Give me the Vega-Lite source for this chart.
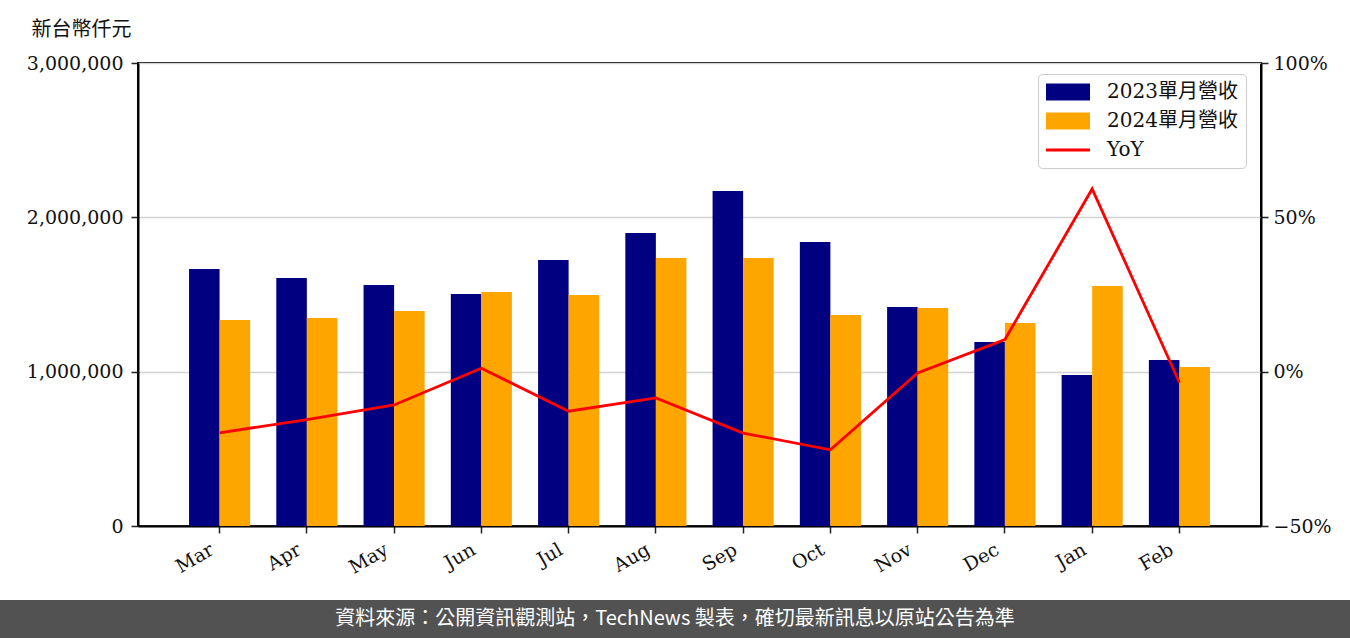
{
  "$schema": "https://vega.github.io/schema/vega-lite/v6.json",
  "padding": {"left": 0, "top": 18, "right": 0, "bottom": 0},
  "spacing": 21,
  "resolve": {"legend": {"color": "independent"}},
  "config": {"view": {"stroke": null}, "font": "DejaVu Serif"},
  "datasets": {
    "rev": [
      {"month": "Mar", "series": "2023單月營收", "value": 1665000},
      {"month": "Mar", "series": "2024單月營收", "value": 1335000},
      {"month": "Apr", "series": "2023單月營收", "value": 1607000},
      {"month": "Apr", "series": "2024單月營收", "value": 1348000},
      {"month": "May", "series": "2023單月營收", "value": 1562000},
      {"month": "May", "series": "2024單月營收", "value": 1393000},
      {"month": "Jun", "series": "2023單月營收", "value": 1503000},
      {"month": "Jun", "series": "2024單月營收", "value": 1516000},
      {"month": "Jul", "series": "2023單月營收", "value": 1724000},
      {"month": "Jul", "series": "2024單月營收", "value": 1497000},
      {"month": "Aug", "series": "2023單月營收", "value": 1899000},
      {"month": "Aug", "series": "2024單月營收", "value": 1737000},
      {"month": "Sep", "series": "2023單月營收", "value": 2171000},
      {"month": "Sep", "series": "2024單月營收", "value": 1737000},
      {"month": "Oct", "series": "2023單月營收", "value": 1840000},
      {"month": "Oct", "series": "2024單月營收", "value": 1367000},
      {"month": "Nov", "series": "2023單月營收", "value": 1419000},
      {"month": "Nov", "series": "2024單月營收", "value": 1413000},
      {"month": "Dec", "series": "2023單月營收", "value": 1192000},
      {"month": "Dec", "series": "2024單月營收", "value": 1315000},
      {"month": "Jan", "series": "2023單月營收", "value": 978000},
      {"month": "Jan", "series": "2024單月營收", "value": 1555000},
      {"month": "Feb", "series": "2023單月營收", "value": 1076000},
      {"month": "Feb", "series": "2024單月營收", "value": 1030000}
    ],
    "yoy": [
      {"month": "Mar", "yoy": -0.198},
      {"month": "Apr", "yoy": -0.155},
      {"month": "May", "yoy": -0.108},
      {"month": "Jun", "yoy": 0.011},
      {"month": "Jul", "yoy": -0.128},
      {"month": "Aug", "yoy": -0.085},
      {"month": "Sep", "yoy": -0.199},
      {"month": "Oct", "yoy": -0.253},
      {"month": "Nov", "yoy": -0.004},
      {"month": "Dec", "yoy": 0.104},
      {"month": "Jan", "yoy": 0.592},
      {"month": "Feb", "yoy": -0.035}
    ],
    "note": [
      {"note": "資料來源：公開資訊觀測站，TechNews 製表，確切最新訊息以原站公告為準"}
    ],
    "empty": []
  },
  "vconcat": [
    {
      "spacing": 0,
      "resolve": {"legend": {"color": "independent"}},
      "hconcat": [
        {
          "width": 25,
          "height": 10,
          "data": {"name": "empty"},
          "mark": "point"
        },
        {
          "width": 1123,
          "height": 463,
          "view": {"stroke": "black", "strokeWidth": 2},
          "layer": [
            {
              "data": {"name": "rev"},
              "mark": {"type": "bar"},
              "encoding": {
                "x": {
                  "field": "month", "type": "nominal",
                  "sort": ["Mar","Apr","May","Jun","Jul","Aug","Sep","Oct","Nov","Dec","Jan","Feb"],
                  "scale": {"paddingInner": 0.3, "paddingOuter": 0.585},
                  "axis": {
                    "title": null, "labelAngle": -30, "labelAlign": "right", "labelBaseline": "top",
                    "labelFont": "DejaVu Serif", "labelFontSize": 19, "labelColor": "#111111", "labelPadding": 7,
                    "labelOffset": -12,
                    "tickSize": 7, "tickColor": "#222222", "tickWidth": 1.5,
                    "domainColor": "black", "domainWidth": 2
                  }
                },
                "xOffset": {"field": "series", "type": "nominal", "scale": {"paddingInner": 0, "paddingOuter": 0}},
                "y": {
                  "field": "value", "type": "quantitative",
                  "scale": {"domain": [0, 3000000], "nice": false, "zero": true},
                  "axis": {
                    "values": [0, 1000000, 2000000, 3000000], "format": ",.0f",
                    "title": "新台幣仟元", "titleAngle": 0, "titleAlign": "left", "titleBaseline": "top",
                    "titleX": -107, "titleY": -44, "titleFont": "Noto Sans CJK TC", "titleFontSize": 20,
                    "titleFontWeight": "normal", "titleColor": "#111111",
                    "labelFont": "DejaVu Serif", "labelFontSize": 19, "labelColor": "#111111", "labelPadding": 8,
                    "tickSize": 7, "tickColor": "#222222", "tickWidth": 1.5,
                    "domainColor": "black", "domainWidth": 2,
                    "grid": true, "gridColor": "#d3d3d3", "gridWidth": 1.5
                  }
                },
                "color": {
                  "field": "series", "type": "nominal",
                  "scale": {"domain": ["2023單月營收", "2024單月營收", "YoY"], "range": ["#000080", "#ffa500", "#ff0000"]},
                  "legend": {
                    "title": null, "orient": "none", "legendX": 900, "legendY": 11,
                    "labelFont": "DejaVu Serif, Noto Sans CJK TC", "labelFontSize": 20, "labelColor": "#111111",
                    "symbolSize": 400, "symbolOffset": 12, "labelOffset": 29, "rowPadding": 9, "padding": 8,
                    "strokeColor": "#cccccc", "fillColor": "rgba(255,255,255,0.8)", "cornerRadius": 4,
                    "encode": {
                      "symbols": {
                        "update": {
                          "shape": {"signal": "datum.value === 'YoY' ? 'M-2.2,0H2.2' : 'M-2.2,-0.85H2.2V0.85H-2.2Z'"},
                          "fill": {"signal": "datum.value === 'YoY' ? 'transparent' : (datum.value === '2023單月營收' ? '#000080' : '#ffa500')"},
                          "stroke": {"signal": "datum.value === 'YoY' ? '#ff0000' : 'transparent'"},
                          "strokeWidth": {"signal": "datum.value === 'YoY' ? 3 : 0"},
                          "opacity": {"value": 1}
                        }
                      }
                    }
                  }
                }
              }
            },
            {
              "data": {"name": "yoy"},
              "mark": {"type": "line", "strokeWidth": 2.8},
              "encoding": {
                "x": {"field": "month", "type": "nominal", "sort": ["Mar","Apr","May","Jun","Jul","Aug","Sep","Oct","Nov","Dec","Jan","Feb"]},
                "y": {
                  "field": "yoy", "type": "quantitative",
                  "scale": {"domain": [-0.5, 1], "nice": false, "zero": false},
                  "axis": {
                    "orient": "right", "values": [-0.5, 0, 0.5, 1], "format": ".0%", "title": null, "grid": false,
                    "labelFont": "DejaVu Serif", "labelFontSize": 19, "labelColor": "#111111", "labelPadding": 5,
                    "tickSize": 7, "tickColor": "#222222", "tickWidth": 1.5,
                    "domainColor": "black", "domainWidth": 2
                  }
                },
                "color": {"datum": "YoY"}
              }
            }
          ],
          "resolve": {"scale": {"y": "independent"}}
        }
      ]
    },
    {
      "width": 1350,
      "height": 38,
      "view": {"fill": "#525252", "stroke": null},
      "data": {"name": "note"},
      "mark": {"type": "text", "color": "white", "font": "Noto Sans CJK TC", "fontSize": 20, "align": "center", "baseline": "middle"},
      "encoding": {"text": {"field": "note"}}
    }
  ]
}
